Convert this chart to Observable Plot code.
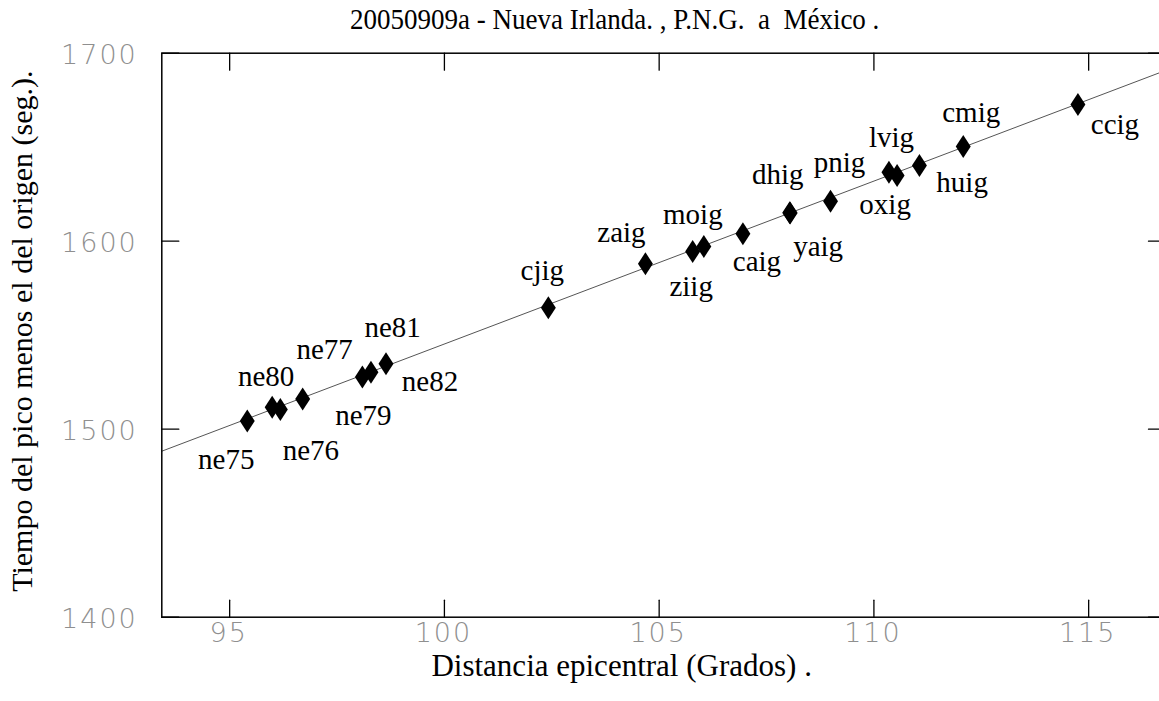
<!DOCTYPE html>
<html><head><meta charset="utf-8">
<script src="https://cdn.jsdelivr.net/npm/d3@7"></script>
<script src="https://cdn.jsdelivr.net/npm/@observablehq/plot@0.6"></script>
<style>
body{margin:0;background:#fff;}
#wrap{position:relative;width:1159px;height:701px;overflow:hidden;background:#fff;}
#wrap svg{max-width:none !important;position:absolute;left:0;top:0;}
#title{position:absolute;left:350px;top:4px;font-family:"Liberation Serif",serif;font-size:30px;white-space:pre;line-height:30px;color:#000;z-index:2;transform:scale(0.9,1);transform-origin:0 0;}
</style></head><body>
<div id="wrap"><div id="title"></div></div>
<script>
// ---- data ----
const titleText = "20050909a - Nueva Irlanda. , P.N.G.  a  México .";
const xLabel = "Distancia epicentral (Grados) .";
const yLabel = "Tiempo del pico menos el del origen (seg.).";
const stations = ["ne75","ne80","ne76","ne77","ne79","ne81","ne82","cjig","zaig","ziig","moig","caig","dhig","yaig","pnig","lvig","oxig","huig","cmig","ccig"];
const distance = [95.41,95.99,96.18,96.70,98.09,98.29,98.64,102.42,104.68,105.78,106.04,106.95,108.04,108.05,108.99,110.35,110.54,111.06,112.08,114.75];
const time = [1504.3,1511.7,1510.5,1516.0,1527.7,1530.3,1534.8,1564.6,1588.0,1594.5,1597.2,1603.9,1615.1,1615.0,1621.3,1636.7,1634.9,1640.3,1650.4,1672.7];
const fitX = [93.42, 116.65];
const fitY = [1488.3, 1689.6];
const xTicks = [95, 100, 105, 110, 115];
const yTicks = [1400, 1500, 1600, 1700];

// ---- layout (label offsets in px: dx, baseline dy) ----
const labelOffsets = [[-21,47.6],[-6,-21.7],[30.5,51],[22,-40.4],[1,47.6],[21.7,-35],[44,27.7],[-6,-27.3],[-24,-21.6],[-1.5,44],[-11,-22.7],[14,36.7],[-12,-29],[28,42.7],[9,-29],[2.5,-25],[-12,38.3],[42.7,26.7],[8,-24.3],[37,29.3]];

document.getElementById("title").textContent = titleText;

const diamond = {draw(ctx, size){const r=Math.sqrt(size/Math.PI); const w=r*0.65; ctx.moveTo(0,-r); ctx.lineTo(w,0); ctx.lineTo(0,r); ctx.lineTo(-w,0); ctx.closePath();}};
const tickShape = {draw(ctx, l){ctx.moveTo(0,0); ctx.lineTo(0,-l);}};
const idx = d3.range(stations.length);
const labFS = 29;
const tickStyle = {fontFamily:"DejaVu Sans", fontSize:27, fontWeight:200, fill:"#8f8f8f"};

const marks = [
  Plot.line(d3.range(fitX.length), {x: i=>fitX[i], y: i=>fitY[i], stroke:"#555", strokeWidth:1, clip:true}),
  Plot.frame({stroke:"black", strokeWidth:1.5}),
  Plot.vector(xTicks, {x: d=>d, frameAnchor:"bottom", length:17, rotate:0, anchor:"start", shape:tickShape, stroke:"black", strokeWidth:1.3}),
  Plot.vector(xTicks, {x: d=>d, frameAnchor:"top", length:17, rotate:180, anchor:"start", shape:tickShape, stroke:"black", strokeWidth:1.3}),
  Plot.vector(yTicks, {y: d=>d, frameAnchor:"left", length:17, rotate:90, anchor:"start", shape:tickShape, stroke:"black", strokeWidth:1.3}),
  Plot.vector(yTicks, {y: d=>d, frameAnchor:"right", length:17, rotate:-90, anchor:"start", shape:tickShape, stroke:"black", strokeWidth:1.3}),
  Plot.text(xTicks, {x: d=>d, frameAnchor:"bottom", text: d=>String(d), dy:25, dx:-1, ...tickStyle}),
  Plot.text(yTicks, {y: d=>d, frameAnchor:"left", text: d=>String(d), textAnchor:"end", dx:-24, dy:2, ...tickStyle}),
  Plot.dot(idx, {x: i=>distance[i], y: i=>time[i], r:11.5, symbol:diamond, fill:"black", stroke:"none"}),
  ...idx.map(i => Plot.text([i], {x: j=>distance[j], y: j=>time[j], text: j=>stations[j], dx: labelOffsets[i][0], dy: labelOffsets[i][1] - 0.32*labFS, fontSize: labFS, fontFamily:"Liberation Serif", fill:"black"})),
  Plot.text([xLabel], {frameAnchor:"bottom", text: d=>d, dx:-42, dy:59, fontSize:31, fontFamily:"Liberation Serif", fill:"black"}),
  Plot.text([yLabel], {frameAnchor:"left", text: d=>d, rotate:-90, textAnchor:"middle", dx:-139.3, dy:-4, fontSize:30, fontFamily:"Liberation Serif", fill:"black"})
];

const plot = Plot.plot({
  width: 1170, height: 701,
  marginLeft: 161.3, marginRight: 5, marginTop: 52.7, marginBottom: 84.3,
  x: {domain: [93.42, 116.789], axis: null},
  y: {domain: [1400, 1700], axis: null},
  style: {fontFamily: "Liberation Serif", background: "white", overflow: "visible"},
  marks
});
plot.querySelectorAll("text").forEach(t => { if (t.closest('[font-family="DejaVu Sans"]')) t.setAttribute("letter-spacing", "2"); });
document.getElementById("wrap").appendChild(plot);
</script>
</body></html>
